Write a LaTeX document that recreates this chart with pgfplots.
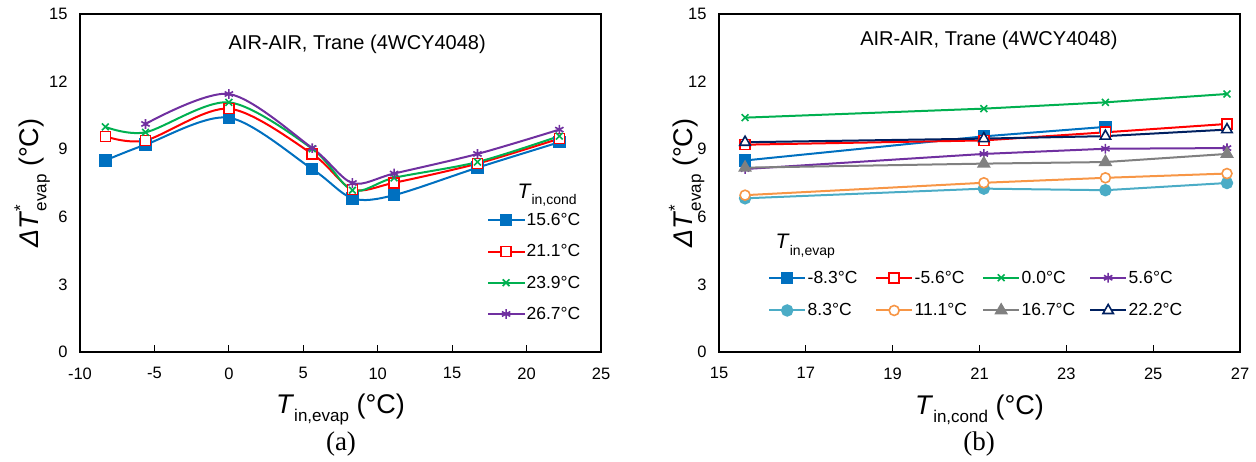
\documentclass[border=0pt]{standalone}
\usepackage{pgfplots}
\pgfplotsset{compat=1.18}
\usepackage{pgfplotstable}
\usepackage{fontspec}
\setmainfont{Liberation Sans}
\newfontfamily\timesfont{Liberation Serif}
\usetikzlibrary{plotmarks}

\definecolor{cBlue}{HTML}{0070C0}
\definecolor{cRed}{HTML}{FF0000}
\definecolor{cGreen}{HTML}{00B050}
\definecolor{cPurple}{HTML}{7030A0}
\definecolor{cCyan}{HTML}{4BACC6}
\definecolor{cOrange}{HTML}{F79646}
\definecolor{cGray}{HTML}{808080}
\definecolor{cNavy}{HTML}{002060}

% rows: T_in,evap ; columns: T_in,cond
\pgfplotstableread{
evap  c156  c211  c239  c267
-8.3  8.50  9.57  9.99  nan
-5.6  9.20  9.39  9.75  10.12
0.0   10.40 10.80 11.08 11.45
5.6   8.12  8.79  9.02  9.05
8.3   6.82  7.22  7.18  7.50
11.1  6.96  7.51  7.73  7.92
16.7  8.18  8.36  8.43  8.79
22.2  9.31  9.47  9.58  9.87
}\byevap

\pgfplotstableread{
cond  em83  em56  e00   e56  e83  e111 e167 e222
15.6  8.50  9.20  10.40 8.12 6.82 6.96 8.18 9.31
21.1  9.57  9.39  10.80 8.79 7.25 7.51 8.36 9.47
23.9  9.99  9.75  11.08 9.02 7.18 7.73 8.43 9.58
26.7  nan   10.12 11.45 9.05 7.50 7.92 8.79 9.87
}\bycond

\newcommand{\subs}[1]{\raisebox{-0.3em}{\fontsize{17}{17}\selectfont #1}}
\newcommand{\subsl}[1]{\raisebox{-0.3em}{\fontsize{14}{14}\selectfont #1}}

\pgfplotsset{
  common/.style={
    scale only axis, width=521pt, height=338pt,
    ymin=0, ymax=15, ytick={0,3,...,15},
    xtick pos=bottom, ytick pos=left,
    tick align=inside, major tick length=7pt,
    ytick style={draw=none},
    xtick style={line width=1pt, black},
    axis line style={line width=1.3pt},
    ticklabel style={font=\fontsize{16.5}{18}\selectfont},
    xticklabel style={yshift=-12pt},
    yticklabel style={xshift=-9pt},
    /pgf/number format/assume math mode=true,
    label style={font=\fontsize{27}{30}\selectfont},
    ylabel={\textit{ΔT}\rlap{\raisebox{0.45em}{\fontsize{17}{17}\selectfont *}}\subs{evap} (°C)},
    xlabel style={at={(axis description cs:0.5,-0.17)}, anchor=center},
    every axis plot/.append style={line width=2pt},
    clip=false,
    legend image code/.code={
      \draw[mark repeat=2,mark phase=2] plot coordinates {(0pt,0pt) (18pt,0pt) (36pt,0pt)};
    },
  },
}

\begin{document}
\begin{tikzpicture}
\useasboundingbox (0,0) rectangle (1256pt,461pt);

% ---------------- (a) ----------------
\begin{axis}[common,
  at={(80pt,109pt)}, anchor=south west,
  xmin=-10, xmax=25, xtick={-10,-5,...,25},
  xlabel={\textit{T}\subs{in,evap} (°C)},
  ylabel style={at={(axis description cs:-0.092,0.5)}, anchor=center},
  legend style={at={(rel axis cs:0.781,0.415)}, anchor=north west,
    draw=none, fill=none, font=\fontsize{17.5}{19}\selectfont,
    row sep=14.5pt, inner sep=0pt, nodes={inner sep=1.5pt}},
  legend cell align=left,
]
\addplot[smooth, cBlue, mark=square*, mark size=5.2pt, mark options={solid, fill=cBlue}]
  table[x=evap, y=c156] {\byevap};
\addlegendentry{15.6°C}
\addplot[smooth, cRed, mark=square*, mark size=5pt, mark options={solid, fill=white, line width=1.6pt}]
  table[x=evap, y=c211] {\byevap};
\addlegendentry{21.1°C}
\addplot[smooth, cGreen, mark=x, mark size=4.8pt, mark options={solid, line width=1.6pt}]
  table[x=evap, y=c239] {\byevap};
\addlegendentry{23.9°C}
\addplot[smooth, cPurple, mark=asterisk, mark size=4.8pt, mark options={solid, line width=1.6pt}]
  table[x=evap, y=c267] {\byevap};
\addlegendentry{26.7°C}
\node[anchor=base west, font=\fontsize{21}{22}\selectfont] at (rel axis cs:0.833,0.455) {\textit{T}\subsl{in,cond}};
\node[font=\fontsize{20}{22}\selectfont] at (rel axis cs:0.532,0.91) {AIR-AIR, Trane (4WCY4048)};
\end{axis}

% ---------------- (b) ----------------
\begin{axis}[common,
  at={(719pt,109pt)}, anchor=south west,
  xmin=15, xmax=27, xtick={15,17,...,27},
  xlabel={\textit{T}\subs{in,cond} (°C)},
  ylabel style={at={(axis description cs:-0.062,0.5)}, anchor=center},
  legend columns=4,
  legend style={at={(rel axis cs:0.094,0.245)}, anchor=north west,
    draw=none, fill=none, font=\fontsize{17.5}{19}\selectfont,
    row sep=16pt, inner sep=0pt, nodes={inner sep=1.5pt}},
  legend cell align=left,
]
\addplot[cBlue, mark=square*, mark size=5.2pt, mark options={solid, fill=cBlue}]
  table[x=cond, y=em83] {\bycond};
\addlegendentry{\makebox[66pt][l]{-8.3°C}}
\addplot[cRed, mark=square*, mark size=5pt, mark options={solid, fill=white, line width=1.6pt}]
  table[x=cond, y=em56] {\bycond};
\addlegendentry{\makebox[66pt][l]{-5.6°C}}
\addplot[cGreen, mark=x, mark size=4.8pt, mark options={solid, line width=1.6pt}]
  table[x=cond, y=e00] {\bycond};
\addlegendentry{\makebox[66pt][l]{0.0°C}}
\addplot[cPurple, mark=asterisk, mark size=4.8pt, mark options={solid, line width=1.6pt}]
  table[x=cond, y=e56] {\bycond};
\addlegendentry{\makebox[66pt][l]{5.6°C}}
\addplot[cCyan, mark=*, mark size=5.2pt, mark options={solid, fill=cCyan}]
  table[x=cond, y=e83] {\bycond};
\addlegendentry{\makebox[66pt][l]{8.3°C}}
\addplot[cOrange, mark=*, mark size=5pt, mark options={solid, fill=white, line width=1.6pt}]
  table[x=cond, y=e111] {\bycond};
\addlegendentry{\makebox[66pt][l]{11.1°C}}
\addplot[cGray, mark=triangle*, mark size=6pt, mark options={solid, fill=cGray}]
  table[x=cond, y=e167] {\bycond};
\addlegendentry{\makebox[66pt][l]{16.7°C}}
\addplot[cNavy, mark=triangle*, mark size=6pt, mark options={solid, fill=white, line width=1.6pt}]
  table[x=cond, y=e222] {\bycond};
\addlegendentry{\makebox[66pt][l]{22.2°C}}
\node[anchor=base west, font=\fontsize{21}{22}\selectfont] at (rel axis cs:0.102,0.305) {\textit{T}\subsl{in,evap}};
\node[font=\fontsize{20}{22}\selectfont] at (rel axis cs:0.518,0.922) {AIR-AIR, Trane (4WCY4048)};
\end{axis}

\node[font=\timesfont\fontsize{27}{30}\selectfont] at (341pt,17pt) {(a)};
\node[font=\timesfont\fontsize{27}{30}\selectfont] at (979pt,17pt) {(b)};
\end{tikzpicture}
\end{document}
